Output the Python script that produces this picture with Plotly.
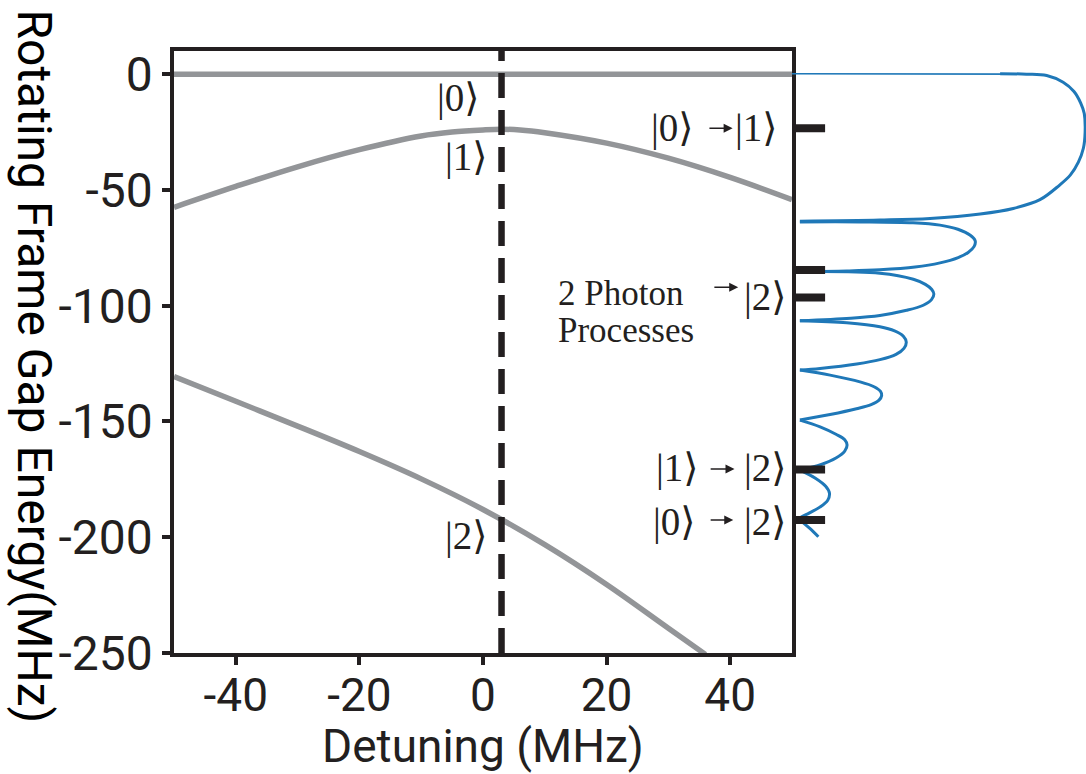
import plotly.graph_objects as go

# ---------------- data ----------------
detuning_0 = [-50, 50]
energy_0 = [0, 0]

detuning_1 = [-50, -40, -30, -20, -10, -5, 0, 3, 6, 10, 20, 30, 40, 50]
energy_1 = [-57.5, -48.5, -40.0, -32.6, -26.7, -25.0, -24.1, -23.8, -24.1, -25.3, -29.8, -36.3, -44.6, -54.2]

detuning_2 = [-50, -40, -30, -20, -10, 0, 10, 20, 30, 36]
energy_2 = [-130.6, -141.3, -152.0, -163.0, -174.8, -188.0, -203.2, -220.4, -239.3, -250.6]

resonance_detuning = 3.0

# spectrum (amplitude, energy); lobes separated by None
spec_thin_amp = [0.0, 0.710, 0.800]
spec_thin_E = [0.2, 0.2, 0.0]

lobe_amp = [
    [0.710, 0.800, 0.869, 0.925, 0.962, 0.985, 0.997, 1.0, 0.994, 0.977, 0.950, 0.912, 0.846, 0.755, 0.642, 0.471, 0.300, 0.027],
    [0.027, 0.232, 0.413, 0.505, 0.566, 0.607, 0.625, 0.621, 0.601, 0.567, 0.505, 0.420, 0.300, 0.187, 0.027],
    [0.027, 0.300, 0.414, 0.455, 0.477, 0.484, 0.476, 0.448, 0.391, 0.300, 0.200, 0.027],
    [0.027, 0.187, 0.300, 0.350, 0.380, 0.390, 0.382, 0.355, 0.300, 0.221, 0.096, 0.027],
    [0.027, 0.130, 0.232, 0.280, 0.302, 0.306, 0.297, 0.270, 0.220, 0.130, 0.027],
    [0.027, 0.096, 0.150, 0.180, 0.188, 0.180, 0.150, 0.100, 0.027],
    [0.027, 0.080, 0.115, 0.128, 0.122, 0.095, 0.060, 0.027],
    [0.027, 0.061, 0.090],
]
lobe_E = [
    [0.2, 0.0, -0.6, -3.5, -7.5, -12.5, -17.0, -25.0, -32.0, -38.0, -43.5, -48.0, -54.2, -58.0, -60.4, -62.3, -63.0, -63.5],
    [-63.8, -63.8, -64.2, -65.2, -67.0, -69.5, -72.0, -74.5, -77.0, -79.2, -81.5, -83.3, -84.5, -85.0, -85.3],
    [-85.3, -86.0, -88.6, -90.8, -93.0, -95.0, -97.4, -99.8, -102.0, -104.2, -105.4, -106.5],
    [-106.5, -107.4, -109.1, -110.9, -113.2, -115.8, -118.4, -121.0, -123.3, -125.2, -127.1, -127.8],
    [-127.8, -130.0, -132.9, -135.0, -137.0, -138.8, -140.8, -142.7, -144.5, -147.0, -149.4],
    [-149.4, -152.3, -155.5, -157.9, -160.2, -162.8, -165.8, -168.6, -171.0],
    [-171.0, -174.5, -178.0, -181.0, -184.0, -187.0, -189.5, -191.6],
    [-192.6, -196.2, -199.8],
]

transition_E = [-23.4, -84.6, -96.5, -170.7, -192.6]
transition_len = 0.113

x_ticks = [-40, -20, 0, 20, 40]
x_ticktext = ["-40", "-20", "0", "20", "40"]
y_ticks = [0, -50, -100, -150, -200, -250]
y_ticktext = ["0", "-50", "-100", "-150", "-200", "-250"]

GRAY = "#939598"
INK = "#231f20"
BLUE = "#1f78b8"
SANS = "Roboto"
SERIF = "Liberation Serif, DejaVu Serif, serif"

fig = go.Figure()

for xs, ys in [(detuning_0, energy_0), (detuning_1, energy_1), (detuning_2, energy_2)]:
    fig.add_trace(go.Scatter(x=xs, y=ys, mode="lines",
                             line=dict(color=GRAY, width=5.5, shape="spline", smoothing=1.0),
                             hoverinfo="skip"))

fig.add_trace(go.Scatter(x=[resonance_detuning, resonance_detuning], y=[-250, 10], mode="lines",
                         line=dict(color=INK, width=6.5, dash="25px,12px")))

fig.add_trace(go.Scatter(x=spec_thin_amp, y=spec_thin_E, xaxis="x2", yaxis="y", mode="lines",
                         line=dict(color=BLUE, width=1.6)))

sx, sy = [], []
for a_list, e_list in zip(lobe_amp, lobe_E):
    sx += a_list + [None]
    sy += e_list + [None]
fig.add_trace(go.Scatter(x=sx, y=sy, xaxis="x2", yaxis="y", mode="lines", connectgaps=False,
                         line=dict(color=BLUE, width=3, shape="spline", smoothing=1.0)))

bx, by = [], []
for e in transition_E:
    bx += [0, transition_len, None]
    by += [e, e, None]
fig.add_trace(go.Scatter(x=bx, y=by, xaxis="x2", yaxis="y", mode="lines",
                         line=dict(color=INK, width=8)))

ann = []
def ket(text, x, y, xanchor="right", size=39):
    ann.append(dict(text=text, x=x, y=y, xref="x", yref="y", showarrow=False, xanchor=xanchor,
                    yanchor="middle", font=dict(family=SERIF, size=size, color=INK)))

def arrow(x0, x1, y):
    ann.append(dict(text="", x=x1, y=y, ax=x0, ay=y, xref="x", yref="y", axref="x", ayref="y",
                    showarrow=True, arrowhead=2, arrowsize=1.2, arrowwidth=1.5, arrowcolor=INK))

ket("|0⟩", -0.1, -10.4)
ket("|1⟩", 1.2, -35.8)
ket("|2⟩", 1.2, -199.5)

ket("|0⟩", 34.5, -23.3)
arrow(36.4, 40.4, -23.4)
ket("|1⟩", 48.0, -23.3)

ket("|1⟩", 35.3, -170.1)
arrow(36.6, 40.7, -170.5)
ket("|2⟩", 49.5, -170.1)

ket("|0⟩", 34.8, -193.4)
arrow(36.6, 40.5, -192.6)
ket("|2⟩", 49.5, -193.4)

ket("|2⟩", 49.5, -96.3)
arrow(37.2, 41.3, -92.0)
ket("2 Photon", 11.75, -94.8, xanchor="left", size=35)
ket("Processes", 11.75, -110.8, xanchor="left", size=35)

ann.append(dict(text="Rotating Frame Gap Energy(MHz)", xref="paper", yref="paper", x=-0.1524, y=0.476,
                textangle=90, showarrow=False, xanchor="center", yanchor="middle",
                font=dict(family=SANS, size=48, color="black")))
ann.append(dict(text="Detuning (MHz)", xref="paper", yref="paper", x=0.3383, y=-0.1545,
                showarrow=False, xanchor="center", yanchor="middle",
                font=dict(family=SANS, size=46, color=INK)))

fig.update_layout(
    width=1086, height=774,
    margin=dict(l=174, r=0, t=51, b=121),
    plot_bgcolor="white", paper_bgcolor="white",
    showlegend=False,
    annotations=ann,
    xaxis=dict(domain=[0, 0.6776], range=[-50, 50], tickvals=x_ticks, ticktext=x_ticktext,
               ticks="outside", ticklen=8, tickwidth=3.5, tickcolor=INK, ticklabelstandoff=-9,
               showline=True, linewidth=3.5, linecolor=INK, mirror=True,
               showgrid=False, zeroline=False,
               tickfont=dict(family=SANS, size=46, color=INK)),
    yaxis=dict(range=[-250, 10], tickvals=y_ticks, ticktext=y_ticktext,
               ticks="outside", ticklen=8, tickwidth=3.5, tickcolor=INK,
               showline=True, linewidth=3.5, linecolor=INK, mirror=True,
               showgrid=False, zeroline=False,
               tickfont=dict(family=SANS, size=48, color=INK)),
    xaxis2=dict(domain=[0.6776, 1], range=[0, 1.003], visible=False, anchor="y",
                showgrid=False, zeroline=False),
)

fig.write_html("out.html")
